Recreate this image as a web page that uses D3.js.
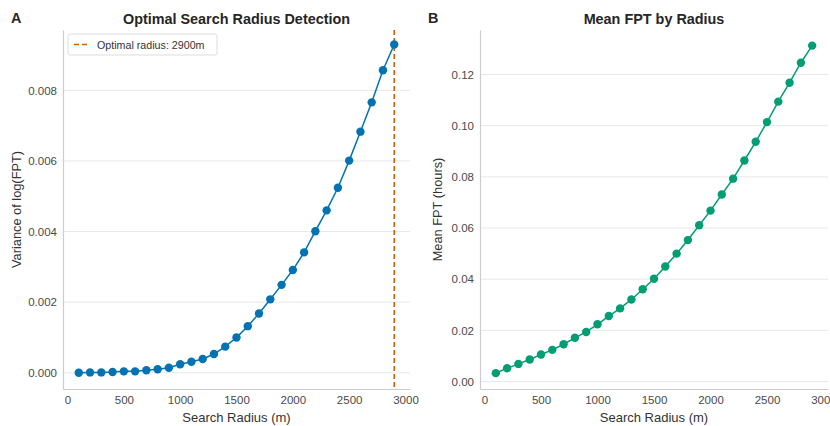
<!DOCTYPE html>
<html>
<head>
<meta charset="utf-8">
<script src="https://cdn.jsdelivr.net/npm/d3@7"></script>
<style>
  body { margin: 0; background: #fff; }
  svg { font-family: "Liberation Sans", Arial, sans-serif; }
</style>
</head>
<body>
<div id="chart"></div>
<script>
// search radii (m)
const radii = [100, 200, 300, 400, 500, 600, 700, 800, 900, 1000,
  1100, 1200, 1300, 1400, 1500, 1600, 1700, 1800, 1900, 2000,
  2100, 2200, 2300, 2400, 2500, 2600, 2700, 2800, 2900];

// panel A: variance of log(FPT)
const varLogFpt = [0.00000, 0.00001, 0.00001, 0.00002, 0.00004, 0.00004, 0.00007, 0.00010, 0.00014, 0.00024,
  0.00031, 0.00039, 0.00053, 0.00074, 0.00100, 0.00132, 0.00168, 0.00208, 0.00249, 0.00291,
  0.00341, 0.00401, 0.00460, 0.00524, 0.00601, 0.00683, 0.00766, 0.00857, 0.00930];

// panel B: mean FPT (hours)
const meanFpt = [0.0033, 0.0052, 0.0069, 0.0086, 0.0106, 0.0124, 0.0146, 0.0171, 0.0194, 0.0224,
  0.0256, 0.0286, 0.0321, 0.0361, 0.0402, 0.0450, 0.0500, 0.0553, 0.0611, 0.0668,
  0.0731, 0.0793, 0.0864, 0.0937, 0.1014, 0.1094, 0.1168, 0.1246, 0.1313];

const optimalRadius = 2900;

const xTicks = [0, 500, 1000, 1500, 2000, 2500, 3000];
const yTicksA = [0, 0.002, 0.004, 0.006, 0.008];
const yTicksB = [0, 0.02, 0.04, 0.06, 0.08, 0.10, 0.12];

const width = 830, height = 426;
const svg = d3.select("#chart").append("svg")
    .attr("width", width)
    .attr("height", height);

const textColor = "#262626";
const tickColor = "#4a4a4a";

function drawPanel(opts) {
    const x = d3.scaleLinear().domain([-40, 3040]).range([opts.left, opts.right]);
    const y = d3.scaleLinear().domain(opts.yDomain).range([opts.bottom, opts.top]);
    const g = svg.append("g");

    // horizontal grid
    g.selectAll("line.grid")
        .data(opts.yTicks)
        .enter()
        .append("line")
        .attr("class", "grid")
        .attr("x1", opts.left)
        .attr("x2", opts.right)
        .attr("y1", d => y(d))
        .attr("y2", d => y(d))
        .style("stroke", "#e8e8e8")
        .style("stroke-width", 1);

    // axes (no tick marks, seaborn whitegrid look)
    const xAxis = g.append("g")
        .attr("transform", `translate(0,${opts.bottom})`)
        .call(d3.axisBottom(x).tickValues(xTicks).tickSize(0).tickPadding(7).tickFormat(d3.format("d")));
    const yAxis = g.append("g")
        .attr("transform", `translate(${opts.left},0)`)
        .call(d3.axisLeft(y).tickValues(opts.yTicks).tickSize(0).tickPadding(6).tickFormat(opts.yFormat));
    [xAxis, yAxis].forEach(a => {
        a.select(".domain").style("stroke", "#cccccc").style("stroke-width", 1.2);
        a.selectAll("text").style("font-size", "11.5px").style("fill", tickColor);
    });

    if (opts.vline !== undefined) {
        g.append("line")
            .attr("x1", x(opts.vline))
            .attr("x2", x(opts.vline))
            .attr("y1", opts.top)
            .attr("y2", opts.bottom)
            .style("stroke", "#d55e00")
            .style("stroke-width", 1.6)
            .style("stroke-dasharray", "5,3");
    }

    const line = d3.line().x((d, i) => x(radii[i])).y(d => y(d));
    g.append("path")
        .datum(opts.values)
        .attr("d", line)
        .style("fill", "none")
        .style("stroke", opts.color)
        .style("stroke-width", 1.5);

    g.selectAll("circle")
        .data(opts.values)
        .enter()
        .append("circle")
        .attr("cx", (d, i) => x(radii[i]))
        .attr("cy", d => y(d))
        .attr("r", 4.2)
        .attr("fill", opts.color);

    // title and labels
    svg.append("text")
        .attr("x", (opts.left + opts.right) / 2)
        .attr("y", 24)
        .attr("text-anchor", "middle")
        .style("font-size", "14.4px")
        .style("font-weight", "bold")
        .style("fill", textColor)
        .text(opts.title);
    svg.append("text")
        .attr("x", opts.panelX)
        .attr("y", 23)
        .style("font-size", "14.4px")
        .style("font-weight", "bold")
        .style("fill", textColor)
        .text(opts.panel);
    svg.append("text")
        .attr("x", (opts.left + opts.right) / 2)
        .attr("y", 422)
        .attr("text-anchor", "middle")
        .style("font-size", "13px")
        .style("fill", "#333")
        .text("Search Radius (m)");
    svg.append("text")
        .attr("transform", `translate(${opts.yLabelX},${(opts.top + opts.bottom) / 2})rotate(-90)`)
        .attr("text-anchor", "middle")
        .style("font-size", "12.8px")
        .style("fill", "#333")
        .text(opts.yLabel);

    return {x, y};
}

drawPanel({
    left: 63, right: 410, top: 30, bottom: 389,
    yDomain: [-0.00046, 0.00971],
    yTicks: yTicksA, yFormat: d3.format(".3f"),
    values: varLogFpt, color: "#0173b2",
    vline: optimalRadius,
    title: "Optimal Search Radius Detection", panel: "A", panelX: 11,
    yLabel: "Variance of log(FPT)", yLabelX: 21
});

drawPanel({
    left: 480, right: 828, top: 30, bottom: 389,
    yDomain: [-0.0029, 0.1374],
    yTicks: yTicksB, yFormat: d3.format(".2f"),
    values: meanFpt, color: "#029e73",
    title: "Mean FPT by Radius", panel: "B", panelX: 428,
    yLabel: "Mean FPT (hours)", yLabelX: 442
});

// legend for panel A
const legend = svg.append("g").attr("transform", "translate(68,34)");
legend.append("rect")
    .attr("width", 149)
    .attr("height", 21)
    .attr("rx", 2)
    .style("fill", "#fff")
    .style("stroke", "#dddddd");
legend.append("line")
    .attr("x1", 6).attr("x2", 21)
    .attr("y1", 10.5).attr("y2", 10.5)
    .style("stroke", "#d55e00")
    .style("stroke-width", 1.6)
    .style("stroke-dasharray", "5,3");
legend.append("text")
    .attr("x", 29)
    .attr("y", 14.5)
    .style("font-size", "10.7px")
    .style("fill", "#333")
    .text("Optimal radius: " + optimalRadius + "m");
</script>
</body>
</html>
